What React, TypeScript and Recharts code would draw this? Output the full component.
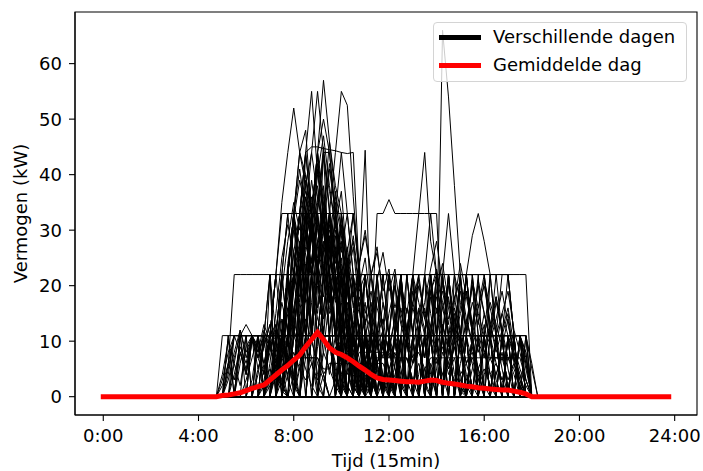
import React from 'react';
import { LineChart, Line, XAxis, YAxis, ReferenceArea, Legend } from 'recharts';

// average profile per 15-min slot (0:00 .. 23:45), kW
const meanDay = [
  0, 0, 0, 0, 0, 0, 0, 0, 0, 0, 0, 0, 0, 0, 0, 0, 0, 0, 0, 0,
  0.2, 0.3, 0.5, 0.7, 1.1, 1.5, 1.8, 2.1, 3.0, 3.9, 4.8, 5.6, 6.6, 7.5, 9.0, 10.3,
  11.6, 10.3, 8.8, 8.0, 7.6, 7.0, 6.3, 5.5, 4.8, 4.0, 3.4, 3.1, 3.0, 2.9, 2.8, 2.7,
  2.7, 2.6, 2.8, 3.0, 2.9, 2.6, 2.4, 2.3, 2.1, 1.9, 1.8, 1.6, 1.5, 1.4, 1.3, 1.2,
  1.2, 1.0, 0.8, 0.5, 0,
  0, 0, 0, 0, 0, 0, 0, 0, 0, 0, 0, 0, 0, 0, 0, 0, 0, 0, 0, 0, 0, 0, 0,
];

const tickSlots = [0, 16, 32, 48, 64, 80, 96];
const tickLabels = ['0:00', '4:00', '8:00', '12:00', '16:00', '20:00', '24:00'];
const yTicks = [0, 10, 20, 30, 40, 50, 60];

// each day: [first slot, kW per slot ...], zero outside
const wideDays = [
  [20, 11, 11, 11, 11, 11, 11, 11, 11, 11, 11, 11, 11, 11, 11, 11, 11, 11, 11, 11, 11, 11, 11, 11, 11, 11, 11, 11, 11, 11, 11, 11, 11, 11, 11, 11, 11, 11, 11, 11, 11, 11, 11, 11, 11, 11, 11, 11, 11, 11, 11, 11, 11],
  [21, 6, 22, 22, 22, 22, 22, 22, 22, 22, 22, 22, 22, 22, 22, 22, 22, 22, 22, 22, 22, 22, 22, 22, 22, 22, 22, 22, 22, 22, 22, 22, 22, 22, 22, 22, 22, 22, 22, 11, 22, 22, 22, 22, 22, 22, 22, 11, 22, 22, 22, 22],
  [28, 11, 22, 33, 33, 33, 33, 33, 33, 33, 33, 33, 33, 33, 33, 33, 22, 11],
  [31, 11, 22, 33, 44, 45, 45, 44.7, 44.5, 44.3, 44, 43.8, 44, 22, 11],
  [45, 11, 33, 33, 35.5, 33, 33, 33, 33, 33, 33, 33, 33, 11],
];

const peakDays = [
  [30, 5, 11, 22, 22, 33, 33, 44, 57, 46, 36, 22, 22, 11, 11, 4],
  [26, 4, 11, 11, 22, 35, 44, 52, 44, 38, 28, 22, 11, 11, 6],
  [29, 11, 11, 22, 33, 33, 44, 55, 40, 33, 22, 11, 11, 11, 5],
  [31, 8, 22, 22, 33, 44, 55, 44, 33, 33, 22, 22, 11, 7],
  [33, 11, 11, 22, 22, 33, 33, 44, 55, 52.5, 36, 22, 11, 11, 4],
  [38, 11, 11, 22, 22, 22, 22, 44.4, 11, 11, 11, 5],
  [30, 11, 22, 33, 44, 48, 33, 22, 22, 11, 4],
  [32, 11, 22, 33, 33, 44, 50, 44, 33, 22, 11],
  [29, 6, 11, 22, 33, 44, 40, 33, 22, 22, 11, 11, 3],
  [33, 11, 22, 33, 33, 33, 46, 38, 33, 22, 11, 5],
  [34, 11, 22, 33, 44, 44, 33, 33, 22, 11, 11, 11, 6],
  [27, 5, 11, 22, 22, 33, 33, 41, 33, 22, 22, 11, 11, 11, 4],
  [35, 11, 22, 33, 42, 33, 33, 22, 22, 11, 11, 8],
  [30, 9, 22, 22, 33, 37, 33, 22, 11, 11],
  [36, 11, 22, 33, 33, 44, 33, 22, 11, 11, 11, 4],
  [49, 6, 11, 22, 22, 33, 44, 28, 22, 11, 11, 4],
  [54, 11, 11, 8, 66, 54, 38, 22, 11],
  [59, 11, 11, 22, 29, 33, 28, 22, 11, 5],
];

const morningDays = [
  [28, 4, 11, 11, 22, 22, 33, 22, 22, 11, 11, 11, 11, 6],
  [30, 11, 11, 3, 22, 22, 22, 14, 11, 11, 11, 7],
  [32, 11, 22, 22, 22, 33, 33, 22, 22, 11, 11, 0, 11, 11, 3],
  [27, 11, 11, 11, 11, 22, 22, 22, 11, 11, 11, 4],
  [33, 6, 11, 22, 22, 22, 33, 22, 11, 11, 11, 11, 11, 11, 5],
  [29, 11, 22, 22, 11, 11, 22, 33, 22, 11, 11, 11, 2],
  [34, 11, 11, 22, 22, 22, 22, 11, 11, 22, 22, 11, 11, 6],
  [36, 11, 22, 22, 33, 22, 22, 22, 11, 11, 11, 11, 11, 11, 11, 8],
  [25, 3, 11, 11, 11, 11, 22, 22, 22, 22, 11, 11, 11, 11, 11, 5],
  [31, 11, 22, 33, 22, 22, 11, 11, 11, 11, 11, 11, 11, 4],
  [38, 11, 22, 22, 22, 33, 22, 22, 11, 11, 11, 11, 7],
  [30, 7, 22, 15, 22, 30, 22, 22, 11, 4, 11, 11],
  [32, 11, 11, 22, 11, 22, 22, 33, 26, 22, 11, 11, 11, 3],
  [35, 11, 22, 22, 22, 17, 22, 11, 11, 11, 11, 5],
  [29, 11, 11, 11, 22, 33, 33, 22, 11, 11, 11, 11, 11, 11, 6],
  [31, 4, 11, 22, 22, 22, 22, 22, 22, 11, 11, 11, 2],
  [34, 11, 22, 33, 33, 22, 22, 11, 11, 11, 11, 11, 11, 11, 11, 4],
  [37, 11, 11, 22, 22, 22, 22, 22, 11, 11, 11, 11, 11, 11, 5],
  [28, 11, 11, 22, 22, 11, 11, 11, 22, 22, 11, 11, 11, 3],
  [33, 11, 22, 22, 28, 33, 22, 11, 11, 11, 11, 11, 6],
];

// restless morning sessions (partial quarters)
const busyDays = [
  [29, 5, 14, 9, 20, 27, 18, 25, 31, 22, 15, 19, 8, 12, 4],
  [31, 8, 19, 26, 17, 30, 24, 35, 28, 19, 13, 7, 11, 3],
  [30, 12, 6, 16, 23, 29, 21, 33, 26, 17, 22, 9, 14, 5],
  [32, 4, 15, 24, 30, 22, 38, 27, 20, 25, 16, 9, 11, 2],
  [33, 10, 18, 13, 27, 33, 25, 19, 28, 15, 8, 13, 6],
  [28, 3, 9, 17, 12, 22, 28, 19, 31, 24, 14, 20, 11, 6, 9, 2],
  [34, 7, 17, 28, 21, 31, 26, 18, 24, 12, 16, 7, 3],
  [30, 9, 20, 14, 25, 34, 29, 22, 30, 18, 11, 15, 5],
  [35, 13, 24, 18, 29, 22, 33, 25, 17, 9, 14, 4],
  [31, 6, 13, 21, 29, 36, 30, 23, 17, 26, 13, 8, 10, 3],
  [32, 11, 8, 19, 25, 16, 27, 32, 21, 14, 19, 10, 4],
  [29, 4, 11, 18, 26, 20, 30, 39, 31, 24, 16, 12, 7, 2],
  [36, 9, 16, 23, 30, 22, 27, 19, 12, 17, 8, 11, 3],
  [33, 14, 22, 29, 24, 32, 21, 26, 15, 9, 12, 5],
  [27, 3, 8, 13, 9, 16, 22, 17, 26, 31, 23, 28, 18, 11, 14, 6],
  [30, 7, 15, 22, 18, 27, 35, 41, 33, 26, 19, 23, 12, 7, 2],
  [34, 10, 21, 15, 26, 30, 24, 31, 19, 13, 17, 6],
  [37, 8, 18, 27, 20, 25, 16, 22, 11, 15, 6, 9, 2],
  [38, 12, 20, 14, 23, 18, 24, 13, 17, 9, 12, 4],
  [40, 9, 17, 12, 21, 15, 19, 11, 14, 7, 10, 3],
  [30, 11, 22, 33, 27, 38, 44, 36, 30, 41, 33, 24, 15, 8],
  [31, 22, 30, 25, 36, 29, 40, 47, 38, 31, 22, 14, 6],
  [32, 14, 27, 36, 31, 42, 35, 28, 37, 30, 19, 11, 4],
  [29, 8, 19, 28, 35, 30, 39, 33, 44, 36, 27, 18, 9],
  [33, 17, 29, 24, 35, 43, 37, 31, 26, 33, 22, 12, 5],
  [30, 10, 24, 32, 39, 34, 28, 36, 30, 23, 29, 17, 8, 3],
  [34, 19, 31, 38, 30, 26, 35, 29, 21, 27, 16, 7],
  [31, 12, 26, 21, 33, 28, 34, 45, 34, 27, 20, 13, 5],
  [35, 22, 28, 34, 26, 31, 37, 24, 18, 22, 12, 6],
  [28, 6, 15, 25, 31, 26, 33, 40, 32, 25, 30, 21, 13, 7, 2],
  [36, 20, 27, 33, 25, 30, 24, 28, 19, 22, 13, 6],
  [37, 16, 25, 31, 27, 22, 29, 20, 25, 16, 9, 4],
  [40, 18, 26, 33, 24, 29, 22, 27, 17, 11, 5],
  [42, 15, 24, 30, 22, 26, 19, 23, 14, 8, 3],
];

// chargers switching on and off between quarters
const toggleDays = [
  [21, 11, 0, 11, 11, 0, 11, 0, 11, 11, 0, 11, 22, 11, 0, 11, 22, 11, 11, 0, 11, 0, 11, 11, 0, 11, 0, 11, 11, 0, 11, 11, 0, 11, 0, 11, 0, 11, 11, 0, 11, 0, 11, 0, 11, 11, 0, 11, 0, 11, 0, 11],
  [24, 0, 11, 0, 11, 22, 0, 11, 11, 0, 22, 11, 0, 11, 22, 22, 0, 11, 0, 11, 0, 22, 11, 0, 11, 11, 0, 11, 0, 22, 11, 0, 11, 0, 11, 11, 0, 22, 0, 11, 0, 11, 0, 11, 11, 0, 11, 0],
  [27, 11, 22, 0, 22, 11, 33, 22, 11, 22, 0, 22, 11, 0, 11, 22, 0, 11, 0, 11, 11, 0, 11, 0, 22, 11, 0, 11, 0, 11, 0, 11, 11, 0, 11, 0, 11, 22, 0, 11, 0, 11, 0, 11],
  [30, 22, 11, 33, 22, 44, 33, 22, 33, 11, 22, 0, 11, 22, 0, 11, 0, 11, 22, 11, 0, 11, 0, 11, 11, 0, 11, 0, 11, 0, 22, 11, 0, 11, 0, 11, 0, 11, 0, 11, 11, 0],
  [29, 11, 0, 22, 33, 11, 22, 33, 22, 44, 22, 11, 33, 11, 0, 22, 11, 0, 11, 0, 11, 11, 0, 22, 11, 0, 11, 0, 11, 0, 11, 0, 11],
  [32, 22, 33, 11, 33, 22, 11, 33, 22, 0, 22, 11, 22, 0, 11, 11, 0, 11, 22, 0, 11, 0, 11, 0, 22, 22, 0, 11, 0, 11, 0, 11, 0, 11, 11, 0, 11, 0, 11, 0],
  [23, 11, 11, 0, 11, 0, 11, 22, 11, 22, 33, 22, 11, 33, 22, 11, 22, 0, 11, 11, 0, 11, 0, 11],
  [40, 11, 22, 0, 11, 22, 11, 0, 11, 0, 11, 22, 11, 0, 11, 11, 0, 11, 0, 22, 11, 0, 11, 0, 11, 11, 0, 11, 0, 11, 0, 11],
  [34, 33, 22, 44, 33, 22, 33, 11, 22, 22, 11, 0, 11, 22, 11, 0, 11, 0, 11, 11, 0, 11, 0, 11, 0, 22, 11, 0, 11, 0, 11, 11, 0, 11, 0, 11, 0, 11],
  [26, 0, 11, 0, 11, 11, 22, 0, 22, 33, 11, 33, 22, 22, 11, 0, 11, 22, 0, 11, 0, 11, 0, 11],
  [44, 11, 0, 22, 11, 0, 11, 22, 0, 11, 0, 11, 22, 0, 22, 11, 0, 11, 0, 11, 11, 0, 22, 11, 0, 11, 0, 11],
  [31, 11, 33, 22, 11, 33, 44, 22, 33, 11, 22, 11, 0, 22, 11, 0, 22, 0, 11, 11, 0, 11, 0, 11, 22, 0, 11, 0, 11, 0, 11, 11, 0, 11, 0, 11, 0, 11, 0, 11],
  [20, 0, 11, 0, 11, 0, 11, 11, 0, 11, 0, 11, 22, 11, 22, 33, 11, 22, 33, 22, 11, 0, 22, 11, 0, 11, 0, 11, 0, 11, 0, 11, 11],
  [48, 22, 11, 0, 11, 22, 0, 11, 22, 11, 0, 11, 0, 22, 11, 0, 11, 11, 0, 11, 0, 11, 0, 11],
  [37, 22, 33, 22, 11, 22, 0, 11, 22, 11, 0, 11, 0, 11, 22, 0, 11, 0, 11, 0, 22, 11, 0, 11, 0, 11, 11, 0, 11, 0, 11, 0, 11, 0, 11],
  [28, 22, 11, 22, 33, 22, 33, 44, 33, 22, 33, 22, 11, 22, 0, 11, 0, 11],
  [52, 11, 0, 11, 22, 11, 0, 22, 11, 0, 11, 22, 0, 11, 0, 11, 11, 0, 11, 0, 11],
  [33, 0, 22, 11, 22, 33, 22, 11, 22, 0, 11, 22, 11, 0, 11, 0, 11, 0, 22, 11, 0, 11, 0, 11],
];

const earlyDays = [
  [21, 4, 11, 11, 11, 11, 8, 11, 11, 11, 11, 11, 6],
  [22, 11, 11, 13, 11, 11, 11, 11, 11, 11, 11, 11, 11, 11, 7],
  [23, 6, 11, 11, 11, 11, 11, 22, 22, 22, 11, 11, 11, 11, 11, 11, 11, 3],
  [20, 3, 8, 11, 11, 11, 11, 11, 11, 11, 11, 5],
  [24, 11, 11, 11, 11, 11, 11, 11, 22, 22, 22, 22, 11, 11, 11, 11, 11, 9],
  [22, 7, 11, 11, 11, 11, 11, 11, 11, 11, 11, 11, 11, 11, 11, 11, 11, 11, 4],
  [26, 11, 11, 11, 11, 11, 11, 22, 22, 22, 22, 33, 22, 22, 22, 11, 11, 11, 11, 11, 5],
  [21, 5, 11, 11, 4, 11, 11, 11, 9, 11, 11, 3],
  [23, 11, 11, 11, 11, 6, 11, 11, 11, 11, 22, 22, 11, 11, 4],
  [25, 11, 11, 11, 11, 11, 11, 11, 11, 11, 11, 11, 11, 11, 11, 11, 11, 11, 11, 11, 7],
  [20, 2, 6, 3, 8, 5, 11, 7, 4, 9, 6, 2],
  [22, 4, 9, 6, 11, 8, 13, 10, 6, 11, 7, 3],
  [24, 3, 7, 11, 5, 9, 12, 8, 11, 14, 9, 5, 2],
  [21, 6, 11, 8, 4, 10, 7, 11, 9, 5, 1],
  [26, 5, 9, 13, 8, 11, 16, 12, 9, 14, 10, 6, 3],
  [23, 8, 4, 11, 9, 6, 11, 13, 7, 10, 4],
  [20, 4, 10, 6, 12, 8, 11, 5, 9, 13, 7, 3],
  [21, 3, 8, 12, 7, 11, 9, 4, 11, 8, 2],
  [22, 6, 2, 9, 11, 7, 12, 9, 5, 10, 6, 2],
];

const afternoonDays = [
  [44, 11, 11, 11, 22, 22, 22, 22, 11, 11, 11, 11, 11, 22, 22, 22, 11, 11, 11, 11, 5],
  [46, 6, 11, 11, 11, 11, 11, 11, 22, 22, 22, 22, 22, 11, 11, 11, 11, 11, 11, 11, 11, 11, 11, 11, 7],
  [50, 11, 11, 22, 22, 22, 11, 11, 11, 22, 22, 22, 22, 11, 11, 11, 11, 3],
  [55, 11, 11, 11, 11, 11, 22, 22, 22, 11, 11, 11, 11, 11, 11, 11, 11, 6],
  [42, 11, 22, 22, 22, 22, 22, 11, 11, 11, 11, 11, 11, 11, 4],
  [58, 8, 11, 11, 22, 22, 22, 22, 11, 11, 22, 22, 11, 11, 11, 5],
  [48, 11, 11, 11, 11, 11, 11, 11, 11, 11, 11, 11, 11, 11, 11, 11, 11, 11, 11, 11, 11, 11, 11, 11, 11, 6],
  [40, 11, 11, 11, 11, 22, 22, 11, 11, 11, 11, 11, 11, 22, 22, 22, 22, 11, 11, 11, 11, 11, 11, 11, 11, 11, 11, 11, 11, 11, 11, 11, 8],
  [52, 11, 22, 22, 22, 11, 22, 33, 22, 22, 22, 11, 11, 11, 4],
  [45, 7, 11, 22, 22, 11, 11, 11, 11, 11, 22, 33, 22, 11, 11, 11, 11, 11, 6],
  [60, 11, 22, 22, 22, 22, 11, 11, 11, 11, 11, 11, 7],
  [62, 11, 11, 11, 22, 22, 22, 22, 11, 11, 5],
  [36, 11, 11, 11, 11, 11, 11, 11, 11, 11, 11, 11, 11, 11, 11, 11, 11, 11, 11, 11, 11, 11, 11, 11, 11, 8, 2],
  [47, 11, 22, 14, 22, 22, 11, 11, 3, 11, 11, 22, 22, 11, 11, 11, 11, 4],
  [53, 4, 11, 11, 22, 22, 11, 11, 11, 22, 22, 11, 11, 11, 11, 11, 11, 11, 11, 6],
  [43, 11, 22, 22, 11, 11, 11, 22, 22, 22, 11, 11, 11, 5],
  [56, 11, 11, 22, 22, 22, 22, 11, 11, 11, 11, 22, 22, 22, 11, 11, 3],
  [49, 11, 11, 11, 22, 11, 11, 11, 11, 11, 11, 11, 22, 22, 11, 11, 11, 11, 11, 11, 11, 11, 11, 8],
  [44, 6, 13, 9, 17, 11, 20, 14, 9, 16, 12, 7, 13, 18, 11, 6, 10, 4],
  [48, 4, 11, 16, 10, 19, 14, 22, 15, 9, 13, 8, 16, 11, 6, 9, 3],
  [52, 9, 14, 7, 18, 12, 21, 16, 10, 15, 19, 12, 8, 13, 7, 4, 8, 2],
  [46, 11, 7, 15, 20, 13, 9, 17, 22, 14, 10, 16, 11, 5, 9, 3],
  [56, 5, 12, 18, 11, 16, 21, 13, 9, 15, 10, 17, 12, 7, 4],
  [50, 7, 16, 12, 20, 15, 11, 19, 24, 17, 12, 8, 14, 9, 5, 2],
  [42, 10, 18, 13, 22, 16, 12, 8, 14, 19, 11, 6, 10, 3],
  [58, 8, 14, 10, 19, 13, 20, 15, 11, 18, 12, 16, 9, 5, 2],
  [54, 12, 19, 23, 17, 11, 15, 9, 13, 20, 14, 8, 11, 6, 3],
  [60, 6, 11, 17, 13, 21, 16, 11, 15, 19, 12, 8, 3],
  [47, 3, 9, 14, 8, 12, 7, 11, 16, 10, 6, 9, 4, 7, 2],
  [62, 5, 10, 7, 13, 9, 15, 11, 8, 3],
  [45, 14, 21, 26, 19, 23, 15, 11, 17, 12, 7, 13, 8, 4],
  [51, 10, 6, 12, 17, 23, 28, 20, 14, 18, 11, 6, 2],
  [57, 13, 9, 17, 24, 18, 12, 21, 15, 10, 14, 19, 13, 8, 4],
  [49, 13, 20, 15, 22, 17, 12, 19, 22, 16, 11, 18, 21, 14, 10, 16, 20, 13, 8, 12, 5],
  [53, 16, 11, 21, 15, 19, 13, 22, 17, 12, 20, 15, 11, 17, 13, 9, 14, 6, 2],
  [46, 18, 13, 22, 16, 20, 12, 17, 21, 14, 19, 11, 16, 20, 13, 9, 4],
  [59, 14, 19, 12, 21, 16, 22, 13, 18, 11, 15, 7, 3],
];

const smallDays = [
  [30, 3, 7, 7, 7, 7, 7, 7, 5, 5, 2],
  [37, 4, 6, 6, 6, 6, 6, 6, 6, 6, 6, 6, 3],
  [54, 5, 7, 7, 7, 7, 7, 7, 7, 7, 7, 7, 7, 7, 7, 7, 7, 4],
  [44, 3, 7, 7, 7, 7, 7, 7, 7, 3],
  [28, 2, 7, 7, 11, 11, 11, 7, 7, 7, 4],
  [64, 4, 7, 7, 7, 7, 7, 7, 3],
  [41, 5, 5, 8, 8, 8, 8, 8, 8, 5, 2],
  [27, 2, 5, 3, 7, 4, 8, 5, 3, 6, 2],
  [39, 3, 6, 4, 8, 5, 7, 3, 6, 2],
  [49, 4, 7, 3, 6, 8, 5, 2, 7, 4, 6, 3, 1],
  [61, 3, 7, 5, 8, 4, 6, 3, 7, 5, 2],
  [33, 5, 9, 6, 3, 8, 5, 9, 4, 7, 2],
  [45, 2, 6, 9, 5, 8, 4, 7, 3, 6, 2],
  [55, 6, 3, 8, 5, 9, 4, 6, 8, 3, 5, 2],
  [66, 4, 7, 3, 6, 2],
];

const legendItems = [
  { label: 'Verschillende dagen', color: '#000000' },
  { label: 'Gemiddelde dag', color: '#ff0000' },
];

const days = [
  ...wideDays, ...peakDays, ...morningDays, ...busyDays, ...toggleDays,
  ...earlyDays, ...afternoonDays, ...smallDays,
];

const rows = meanDay.map((m, i) => {
  const row: Record<string, number> = { slot: i, mean: m };
  days.forEach(([start, ...kw], k) => {
    const j = i - start;
    row[`d${k}`] = j >= 0 && j < kw.length ? kw[j] : 0;
  });
  return row;
});

const FONT = 'DejaVu Sans, sans-serif';
const FS = 18;

function LegendBox() {
  return (
    <div
      style={{
        position: 'relative',
        width: 254,
        height: 60,
        boxSizing: 'border-box',
        border: '1px solid #d4d4d4',
        borderRadius: 4,
        background: 'rgba(255,255,255,0.8)',
        fontFamily: FONT,
        fontSize: FS,
        color: '#000',
      }}
    >
      {legendItems.map((item, idx) => (
        <div key={item.label} style={{ position: 'absolute', left: 0, top: 14 + idx * 28.4 - 12, height: 24, width: '100%' }}>
          <div style={{ position: 'absolute', left: 5, top: 9.5, width: 42, height: 5, background: item.color }} />
          <span style={{ position: 'absolute', left: 59, top: 0, lineHeight: '24px', whiteSpace: 'nowrap' }}>{item.label}</span>
        </div>
      ))}
    </div>
  );
}

const XLabel = () => (
  <text x={386} y={467} textAnchor="middle" fill="#000" fontSize={FS} fontFamily={FONT}>
    Tijd (15min)
  </text>
);

const YLabel = () => (
  <text
    x={20}
    y={213.5}
    transform="rotate(-90, 20, 213.5)"
    textAnchor="middle"
    dominantBaseline="central"
    fill="#000"
    fontSize={FS}
    fontFamily={FONT}
  >
    Vermogen (kW)
  </text>
);

export default function App() {
  return (
    <div style={{ position: 'absolute', left: 0, top: 0, width: 703, height: 471, background: '#fff' }}>
      <LineChart width={703} height={471} data={rows} margin={{ top: 12, right: 6, bottom: 0, left: 0 }}>
        <XAxis
          dataKey="slot"
          type="number"
          domain={[-4.75, 99.75]}
          ticks={tickSlots}
          tickFormatter={(v: number) => tickLabels[tickSlots.indexOf(v)]}
          height={56}
          tickSize={6}
          tickMargin={8}
          axisLine={{ stroke: '#000', strokeWidth: 1.1 }}
          tickLine={{ stroke: '#000', strokeWidth: 1.1 }}
          tick={{ fill: '#000', fontSize: FS, fontFamily: FONT }}
          allowDataOverflow
          label={{ content: XLabel }}
        />
        <YAxis
          type="number"
          domain={[-3.3, 69.3]}
          ticks={yTicks}
          width={75}
          tickSize={6}
          tickMargin={7}
          axisLine={{ stroke: '#000', strokeWidth: 1.1 }}
          tickLine={{ stroke: '#000', strokeWidth: 1.1 }}
          tick={{ fill: '#000', fontSize: FS, fontFamily: FONT }}
          allowDataOverflow
          label={{ content: YLabel }}
        />
        <ReferenceArea x1={-4.75} x2={99.75} y1={-3.3} y2={69.3} fill="none" stroke="#000" strokeWidth={1.1} ifOverflow="visible" />
        {days.map((_, k) => (
          <Line
            key={k}
            dataKey={`d${k}`}
            stroke="#000"
            strokeWidth={1}
            dot={false}
            activeDot={false}
            type="linear"
            legendType="none"
            isAnimationActive={false}
          />
        ))}
        <Line
          dataKey="mean"
          stroke="#ff0000"
          strokeWidth={5}
          strokeLinecap="square"
          dot={false}
          activeDot={false}
          type="linear"
          legendType="none"
          isAnimationActive={false}
        />
        <Legend
          layout="vertical"
          align="center"
          verticalAlign="middle"
          content={() => <LegendBox />}
          wrapperStyle={{ left: 433, top: 22, width: 254, height: 60 }}
        />
      </LineChart>
    </div>
  );
}
